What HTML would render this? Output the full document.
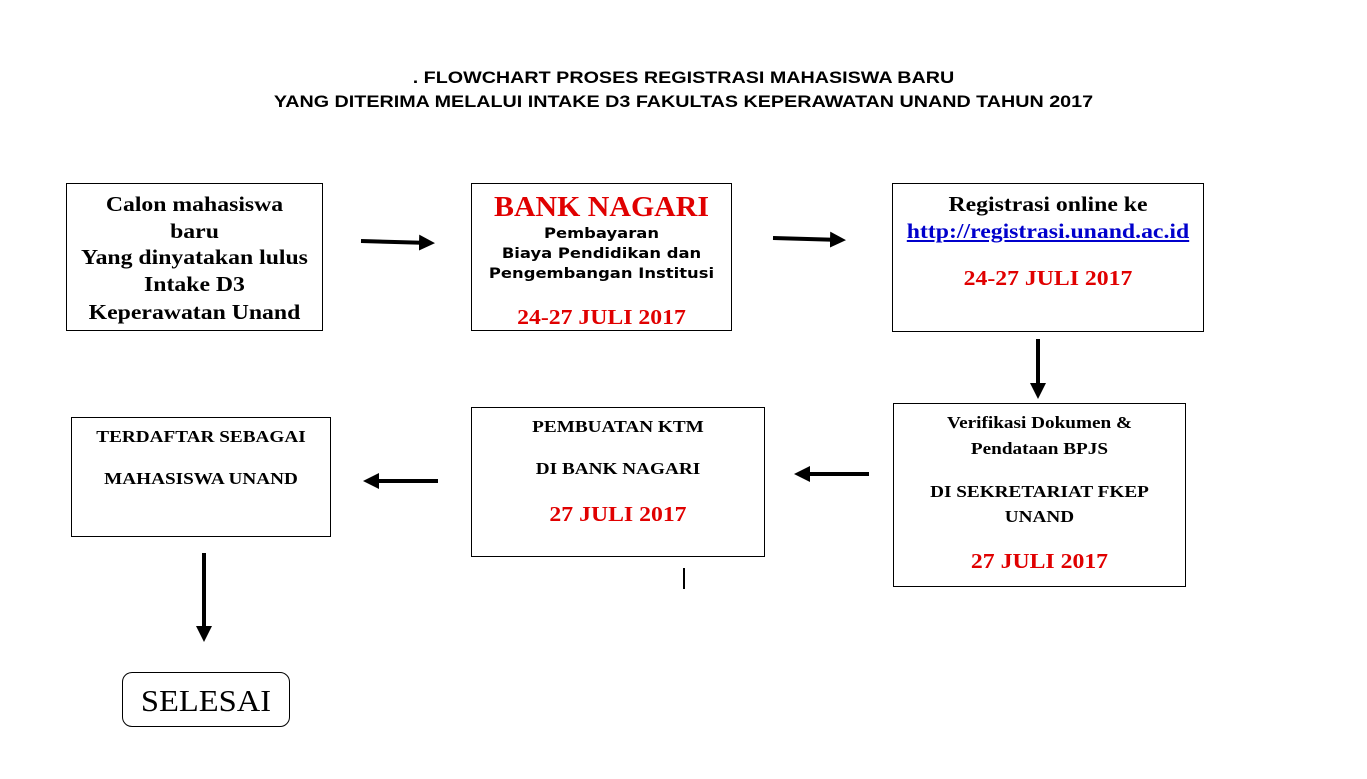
<!DOCTYPE html>
<html><head><style>
body{margin:0;width:1367px;height:779px;background:#fff;position:relative;overflow:hidden;font-family:"Liberation Serif",serif;}
.b{position:absolute;border:1px solid #000;box-sizing:border-box;}
.t{position:absolute;left:0;width:100%;text-align:center;white-space:nowrap;font-weight:bold;line-height:1;transform:scaleX(1.13);}
.r{color:#e00000;}
.h{position:absolute;font-family:"Liberation Sans",sans-serif;font-weight:bold;font-size:17px;text-align:center;width:1367px;left:0;white-space:nowrap;transform:scaleX(1.16);}
.v{font-family:"DejaVu Sans",sans-serif;font-size:14.5px;}
</style></head><body>
<div class="h" style="top:68px;left:0px">. FLOWCHART PROSES REGISTRASI MAHASISWA BARU</div>
<div class="h" style="top:92px;left:0px">YANG DITERIMA MELALUI INTAKE D3 FAKULTAS KEPERAWATAN UNAND TAHUN 2017</div>

<div class="b" style="left:66px;top:183px;width:257px;height:148px">
<div class="t" style="top:10px;font-size:21px">Calon mahasiswa</div>
<div class="t" style="top:37px;font-size:21px">baru</div>
<div class="t" style="top:63px;font-size:21px">Yang dinyatakan lulus</div>
<div class="t" style="top:90px;font-size:21px">Intake D3</div>
<div class="t" style="top:118px;font-size:21px">Keperawatan Unand</div>
</div>

<div class="b" style="left:471px;top:183px;width:261px;height:148px">
<div class="t r" style="top:9px;font-size:29px;transform:scaleX(1.03)">BANK NAGARI</div>
<div class="t v" style="top:43px">Pembayaran</div>
<div class="t v" style="top:63px">Biaya Pendidikan dan</div>
<div class="t v" style="top:83px">Pengembangan Institusi</div>
<div class="t r" style="top:123px;font-size:21px">24-27 JULI 2017</div>
</div>

<div class="b" style="left:892px;top:183px;width:312px;height:149px">
<div class="t" style="top:10px;font-size:21px">Registrasi online ke</div>
<div class="t" style="top:37px;font-size:21px;color:#0000cc;text-decoration:underline">http://registrasi.unand.ac.id</div>
<div class="t r" style="top:84px;font-size:21px">24-27 JULI 2017</div>
</div>

<div class="b" style="left:893px;top:403px;width:293px;height:184px">
<div class="t" style="top:10px;font-size:17px">Verifikasi Dokumen &amp;</div>
<div class="t" style="top:36px;font-size:17px">Pendataan BPJS</div>
<div class="t" style="top:79px;font-size:17px">DI SEKRETARIAT  FKEP</div>
<div class="t" style="top:104px;font-size:17px">UNAND</div>
<div class="t r" style="top:147px;font-size:21px">27 JULI 2017</div>
</div>

<div class="b" style="left:471px;top:407px;width:294px;height:150px">
<div class="t" style="top:10px;font-size:17px">PEMBUATAN KTM</div>
<div class="t" style="top:52px;font-size:17px">DI BANK NAGARI</div>
<div class="t r" style="top:96px;font-size:21px">27 JULI 2017</div>
</div>

<div class="b" style="left:71px;top:417px;width:260px;height:120px">
<div class="t" style="top:10px;font-size:17px">TERDAFTAR SEBAGAI</div>
<div class="t" style="top:52px;font-size:17px">MAHASISWA UNAND</div>
</div>

<div class="b" style="left:122px;top:672px;width:168px;height:55px;border-radius:10px">
<div class="t" style="top:12px;font-size:31px;font-weight:normal;transform:scaleX(1.05)">SELESAI</div>
</div>

<svg width="1367" height="779" style="position:absolute;left:0;top:0">
<defs><marker id="a" markerWidth="4" markerHeight="4" refX="3" refY="2" orient="auto" markerUnits="strokeWidth"><path d="M0,0 L4,2 L0,4 z" fill="#000"/></marker></defs>
<g stroke="#000" stroke-width="4" marker-end="url(#a)">
<line x1="361" y1="241" x2="431" y2="243"/>
<line x1="773" y1="238" x2="842" y2="240"/>
<line x1="1038" y1="339" x2="1038" y2="395"/>
<line x1="869" y1="474" x2="798" y2="474"/>
<line x1="438" y1="481" x2="367" y2="481"/>
<line x1="204" y1="553" x2="204" y2="638"/>
</g>
<line x1="684" y1="568" x2="684" y2="589" stroke="#000" stroke-width="2"/>
</svg>
</body></html>
